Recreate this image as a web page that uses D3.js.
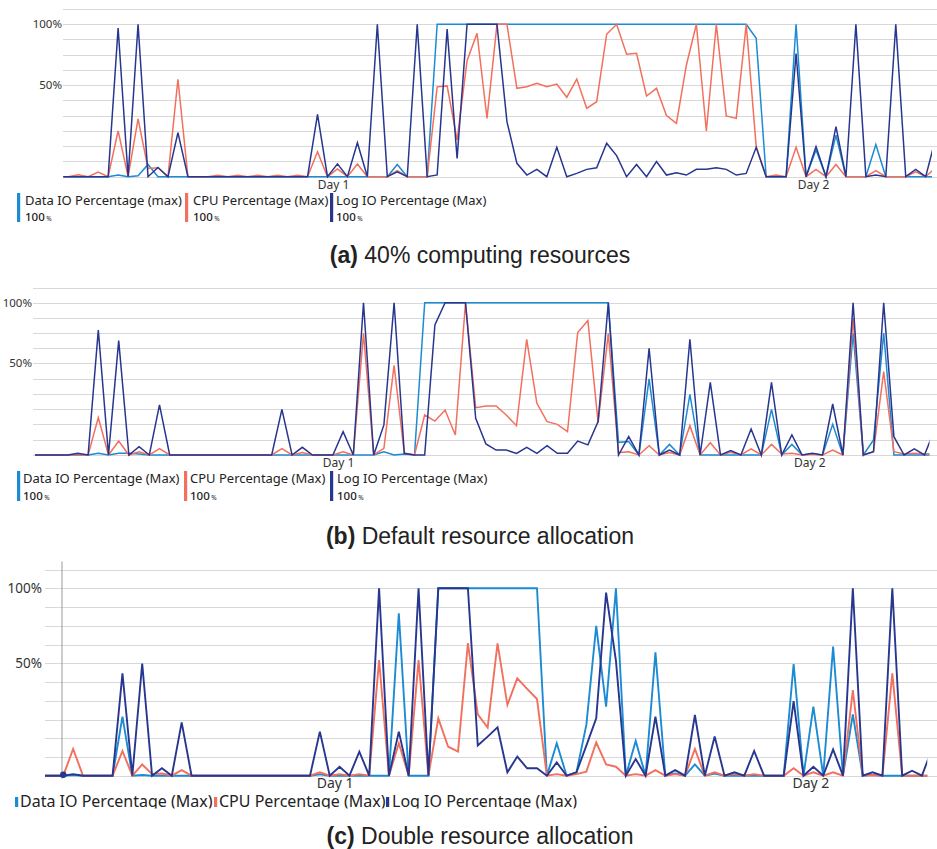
<!DOCTYPE html>
<html>
<head>
<meta charset="utf-8">
<script src="https://cdn.jsdelivr.net/npm/d3@7"></script>
<style>
  body { margin: 0; background: #fff; }
  svg { display: block; }
  .tick text { font-family: "Noto Sans", sans-serif; fill: #333; }
  .legend text { font-family: "Noto Sans", sans-serif; fill: #222; }
  .caption { font-family: "Liberation Sans", sans-serif; fill: #222; }
</style>
</head>
<body>
<script>
// values, in percent (first point sits just left of the plot edge)

// (a) 40% computing resources
var aDataIO = [0,0,0,0,0,0, 0.9,0,0.5,6.7,0,
  0,0,0,0,0,0,0,0,0,0,0,0,0,0,0,0,0,0,0,0,0,0,0,
  6.7,0,0,0,
  100,100,100,100,100,100,100,100,100,100,100,100,100,100,100,100,
  100,100,100,100,100,100,100,100,100,100,100,100,100,100,100,100,
  88.5,0,0,0, 100,0,14.5,0,22.7,0,0,0, 17.6,0,0,0,0,0,0];
var aCPU = [0,0,1.1,0,2.5,0, 25,0,31.5,4.5,4.9,0,54.7,0,
  0,0,0.8,0,0.8,0,0.8,0,0.8,0,0.8,0,
  13.6,0,4.2,0,6.9,0,0,0,3.3,0,0,0,
  49,49.5,20,70,92.6,31.8,100,100,48.2,49.1,51.4,49.1,
  50.8,43.3,54.9,37.3,40.9,91.8,100,75.3,76.1,44,48.2,33.3,
  29.1,66.5,100,24.9,100,33.1,31.8,100,16.4,0,0.9,0,
  16,0,4,0,6.7,0,0,0,3.3,0,0,0, 2.7,0,5];
var aLogIO = [0,0,0,0,0,0, 97,0,100,0,5,0,24,0,
  0,0,0,0,0,0,0,0,0,0,0,0,
  34,0,7,0,18.5,0,100,0,2.7,0,100,0,
  1,96,10,100,100,100,100,30,7.3,0.9,4,0,
  16,0,1.8,4,4.9,18.2,11.5,0,6.7,0,8.2,0.9,
  2.2,0.9,4,4,4.9,4,0.9,1.8,16,0,0,0,
  76,0,16.4,0,27.3,0,100,0,0.9,0,100,0, 4,0,21];

// (b) Default resource allocation
var bDataIO = [0,0,0,0,0,0,0, 0.9,0,0.9,0.9,0.5,
  0,0,0,0,0,0,0,0,0,0,0,0,0,0,0,0,0,0,0,0,0,0,0,
  1.8,0,0.5,0,
  100,100,100,100,100,100,100,100,100,100,100,100,100,100,100,100,100,100,100,
  6.9,7.3,0,41.5,0,5.8,0,33.1, 0,0,0,0,0,0,0,
  24.9,0,5.8,0,0.5,0,16.7,0, 75,0,8.2,75, 0,0,0,0,0];
var bCPU = [0,0,0,0,0,0,0, 20.4,0,7.6,0,1.8,0,3.5,0,
  0,0,0,0,0,0,0,0,0,0,
  3.5,0,1.3,0,0,0,1.8,0,
  74.7,0,3.6,48.9,0.9,0,21.8,18.5,24.5,10.9,
  100,25.8,26.7,26.7,21.8,16,69.8,28.2,18.2,16.7,
  12.7,75.3,85.2,17.6,74.7,1.3,1.8,0,5.1,0,
  1.3,0,16,0,6.7,0,1.5,0,3.3,0,
  5.8,0.5,0.9,0,0.4,0,2.7,0,87,0,
  1.8,45.5,1.8,0.5,0.9,0.5,0.9];
var bLogIO = [0,0,0,0,0,0.9,0, 77.5,0,68.7,0,4.5,0,27.3,0,
  0,0,0,0,0,0,0,0,0,0,
  24.9,0,4.2,0,0,0,12.7,0,
  100,0,16.4,100,0.9,0,0,81.6,100,100,
  100,20,6,2.7,2.7,0.9,4.2,0.9,5.1,0.9,
  0.9,7.6,5.5,18.2,100,0,10,0,62.4,0,
  2.7,0,69.8,0,39.6,0,2.4,0,14.2,0,
  39.6,0,10.9,0,0.9,0,27.8,0,100,0,
  1.8,100,10,0,3.3,0,14];

// (c) Double resource allocation
var cDataIO = [0,0,0,0.3,0,0,0,0, 26.3,0,0.3,0,0,0,0,
  0,0,0,0,0,0,0,0,0,0,0,0,0,
  0.6,0,0,0,0,0,0,0, 83.3,0,0,0,
  100,100,100,100,100,100,100,100,100,100,100,
  0,14.4,0,1.5,22.6,74.9,30.7,100,0,15.4,
  0,57.3,0,1,0,5,0,1,0,0,
  0,0,0,0,0,49.7,0,30.7,0,61.1,
  0,27.3,0,0.3,0,0,0,0,0,0];
var cCPU = [0,0,0,11.9,0,0,0,0, 11,0,5,0.7,1,0,2.5,
  0,0,0,0,0,0,0,0,0,0,0,0,0,
  1.5,0,0.7,0,0.7,0,52.2,0, 14.4,0,52.2,0,
  25.5,12.9,10.7,63.5,27.3,21.4,63.3,31.5,43.3,38.6,34.1,
  0,0.7,0,0.7,1.8,14.8,5,4,0,0.7,
  0,2.5,0,0.7,0,11.9,0,1.5,0,0.7,
  0,0.7,0,0,0,3.3,0,1.5,0,1.5,
  0,38.1,0,0.3,0,45.5,0,0,0,0];
var cLogIO = [0,0,0,0.7,0,0,0,0, 45.5,0,49.9,0,3.3,0,23.7,
  0,0,0,0,0,0,0,0,0,0,0,0,0,
  19.6,0,4,0,10.7,0,100,0, 19.6,0,100,0,
  100,100,100,100,13.4,17.4,21.5,1.5,8.5,3.3,3.3,
  0,5.9,0,1.5,13.4,25.5,97.1,51.6,0,7.4,
  0,26.3,0,2.5,0,27,0,17.4,0,1.5,
  0,11,0,0,0,33.2,0,4,0,11.7,
  0,100,0,1.5,0,100,0,2.2,0,11.6];

// tick labels and legends
var yTickValues = [100, 50];
var yTickLabels = ["100%", "50%"];
var dayLabels = ["Day 1", "Day 2"];
var aDayPos = [27.55, 75.7];
var bDayPos = [30.5, 76.7];
var cDayPos = [29.5, 77.7];
var aLegendNames = ["Data IO Percentage (max)", "CPU Percentage (Max)", "Log IO Percentage (Max)"];
var bLegendNames = ["Data IO Percentage (Max)", "CPU Percentage (Max)", "Log IO Percentage (Max)"];
var legendValue = "100";
var captionTags = ["(a)", "(b)", "(c)"];
var captionTexts = [" 40% computing resources", " Default resource allocation", " Double resource allocation"];

var colors = ["#1b8bd4", "#f2705d", "#27368f"];

var width = 937, height = 849;

var svg = d3.select("body")
            .append("svg")
            .attr("width", width)
            .attr("height", height);

// layout of the three panels
var panels = [
  { series: [aDataIO, aCPU, aLogIO], days: aDayPos, names: aLegendNames,
    x0: 58.3, step: 9.97, clipL: 63.3, clipR: 932, gridL: 63, gridR: 937,
    y0: 176.7, y50: 85, y100: 24.3, labelR: 62, labelSize: 11.5,
    daySize: 12, dayPad: 3.3, lineW: 1.5,
    legend: { style: "two", y1: 193, y2: 222, textY: 204.5, valueY: 221, size: 13,
              bars: [17, 185, 330], texts: [25, 193, 336] },
    captionY: 263 },
  { series: [bDataIO, bCPU, bLogIO], days: bDayPos, names: bLegendNames,
    x0: 26.9, step: 10.2, clipL: 35, clipR: 929.5, gridL: 33, gridR: 937,
    y0: 455, y50: 363.3, y100: 302.7, labelR: 32, labelSize: 11.5,
    daySize: 12, dayPad: 3.2, lineW: 1.5,
    legend: { style: "two", y1: 471, y2: 501, textY: 483, valueY: 500, size: 13,
              bars: [17, 184, 330], texts: [23, 190, 337] },
    captionY: 544 },
  { series: [cDataIO, cCPU, cLogIO], days: cDayPos, names: bLegendNames,
    x0: 43.5, step: 9.87, clipL: 45, clipR: 927.3, gridL: 45, gridR: 937,
    y0: 775.7, y50: 663.3, y100: 588.3, labelR: 42, labelSize: 13.5,
    daySize: 14, dayPad: 2.3, lineW: 1.9, axisLine: 62, marker: 2,
    legend: { style: "one", y1: 797, y2: 807, textY: 807, clipY: 808.5, size: 16,
              bars: [15, 214, 386], texts: [20, 219, 392] },
    captionY: 844 }
];

panels.forEach(function(p, pi) {
    var g = svg.append("g");
    var n = p.series[0].length;

    // scale X (point index)
    var xScale = d3.scaleLinear()
                   .domain([0, n - 1])
                   .range([p.x0, p.x0 + p.step * (n - 1)]);

    // scale Y, the portal squeezes 0-50 and 50-100 differently
    var yScale = d3.scaleLinear()
                   .domain([0, 50, 100])
                   .range([p.y0, p.y50, p.y100]);

    // gridlines: 6 steps below 50%, 12.5% steps above
    var gridValues = d3.range(0, 49, 50 / 6).concat(d3.range(50, 113, 12.5));
    g.selectAll(".grid")
     .data(gridValues)
     .enter()
     .append("line")
     .attr("class", "grid")
     .attr("x1", p.gridL)
     .attr("x2", p.gridR)
     .attr("y1", function(d) { return Math.round(yScale(d)) + 0.5; })
     .attr("y2", function(d) { return Math.round(yScale(d)) + 0.5; })
     .attr("stroke", "#d8d8d8")
     .attr("stroke-width", 1);

    if (p.axisLine) {
        g.append("line")
         .attr("x1", p.axisLine).attr("x2", p.axisLine)
         .attr("y1", yScale(112.5) - 8).attr("y2", p.y0 + 3)
         .attr("stroke", "#999");
    }

    // y labels
    var yAxis = d3.axisLeft(yScale)
                  .tickValues(yTickValues)
                  .tickSize(0)
                  .tickPadding(0)
                  .tickFormat(function(d, i) { return yTickLabels[i]; });
    g.append("g")
     .attr("transform", "translate(" + p.labelR + ",0)")
     .call(yAxis)
     .call(function(a) { a.select(".domain").remove(); })
     .selectAll("text")
     .style("font-size", p.labelSize + "px");

    // day labels
    var xAxis = d3.axisBottom(xScale)
                  .tickValues(p.days)
                  .tickSize(0)
                  .tickPadding(p.dayPad)
                  .tickFormat(function(d, i) { return dayLabels[i]; });
    g.append("g")
     .attr("transform", "translate(0," + p.y0 + ")")
     .call(xAxis)
     .call(function(a) { a.select(".domain").remove(); })
     .selectAll("text")
     .style("font-size", p.daySize + "px");

    // clip the lines to the plot
    svg.append("clipPath")
       .attr("id", "clip" + pi)
       .append("rect")
       .attr("x", p.clipL)
       .attr("y", yScale(112.5) - 5)
       .attr("width", p.clipR - p.clipL)
       .attr("height", p.y0 - yScale(112.5) + 10);

    var line = d3.line()
                 .x(function(d, i) { return xScale(i); })
                 .y(function(d) { return yScale(d); });

    g.append("g")
     .attr("clip-path", "url(#clip" + pi + ")")
     .selectAll(".series")
     .data(p.series)
     .enter()
     .append("path")
     .attr("class", "series")
     .attr("d", line)
     .attr("fill", "none")
     .attr("stroke", function(d, i) { return colors[i]; })
     .attr("stroke-width", p.lineW)
     .attr("stroke-linejoin", "miter");

    if (p.marker !== undefined) {
        g.append("circle")
         .attr("cx", xScale(p.marker))
         .attr("cy", yScale(p.series[2][p.marker]) - 1)
         .attr("r", 3.2)
         .attr("fill", colors[2]);
    }

    // legend
    var L = p.legend;
    var lg = g.append("g").attr("class", "legend");
    if (L.style === "one") {
        svg.append("clipPath")
           .attr("id", "lclip" + pi)
           .append("rect")
           .attr("x", 0).attr("y", L.clipY - 30)
           .attr("width", width).attr("height", 30);
        lg.attr("clip-path", "url(#lclip" + pi + ")");
    }
    var item = lg.selectAll(".item")
                 .data(p.names)
                 .enter()
                 .append("g")
                 .attr("class", "item");
    item.append("rect")
        .attr("x", function(d, i) { return L.bars[i]; })
        .attr("y", L.y1)
        .attr("width", 3.2)
        .attr("height", L.y2 - L.y1)
        .attr("fill", function(d, i) { return colors[i]; });
    item.append("text")
        .attr("x", function(d, i) { return L.texts[i]; })
        .attr("y", L.textY)
        .style("font-size", L.size + "px")
        .text(function(d) { return d; });
    if (L.style === "two") {
        var v = item.append("text")
                    .attr("x", function(d, i) { return L.texts[i]; })
                    .attr("y", L.valueY)
                    .style("font-size", "11.5px")
                    .style("font-weight", "500");
        v.append("tspan").text(legendValue);
        v.append("tspan").style("font-size", "6.5px").style("font-weight", "400").attr("dx", 1.5).text("%");
    }

    // caption
    var cap = svg.append("text")
                 .attr("class", "caption")
                 .attr("x", 480)
                 .attr("y", p.captionY)
                 .attr("text-anchor", "middle")
                 .style("font-size", "23px");
    cap.append("tspan").style("font-weight", "bold").text(captionTags[pi]);
    cap.append("tspan").text(captionTexts[pi]);
});
</script>
</body>
</html>
